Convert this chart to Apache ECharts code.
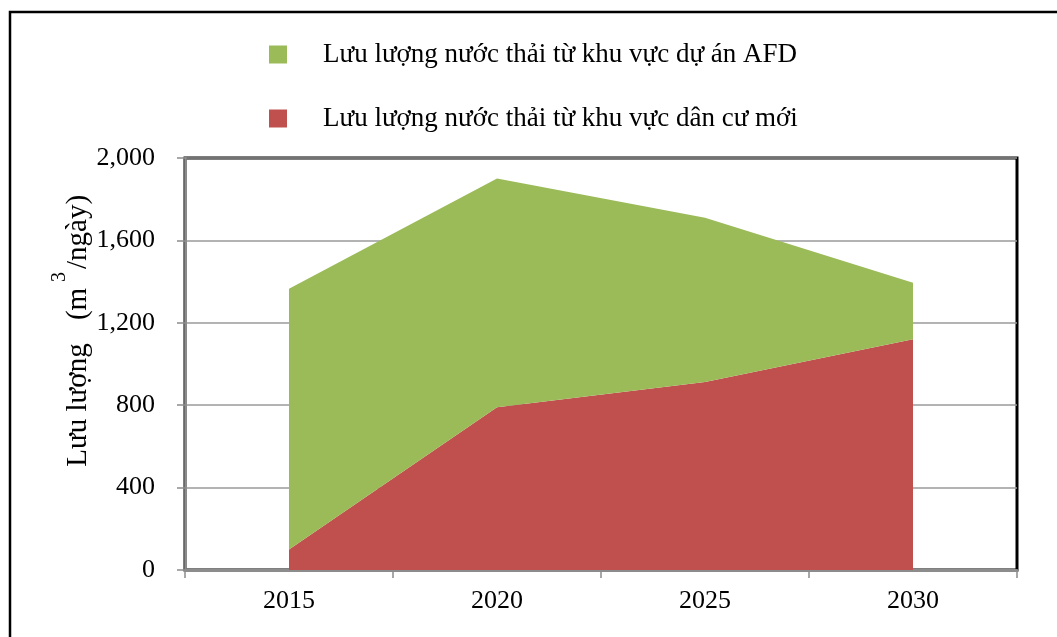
<!DOCTYPE html>
<html>
<head>
<meta charset="utf-8">
<script src="https://cdn.jsdelivr.net/npm/echarts@6/dist/echarts.min.js"></script>
<style>
html,body{margin:0;padding:0;background:#fff;}
#chart{width:1057px;height:637px;}
</style>
</head>
<body>
<div id="chart"></div>
<script>
const categories = ['2015', '2020', '2025', '2030'];
const residentialFlow = [100, 790, 913, 1120];
const afdFlow = [1265, 1110, 797, 275];
const seriesNames = ['Lưu lượng nước thải từ khu vực dân cư mới', 'Lưu lượng nước thải từ khu vực dự án AFD'];
const yTicks = [0, 400, 800, 1200, 1600, 2000];
const yTitleParts = ['Lưu lượng', '(m', '3', '/ngày)'];

const FONT = '"Liberation Serif", "Times New Roman", serif';
const chart = echarts.init(document.getElementById('chart'), null, {renderer: 'canvas'});
chart.setOption({
  animation: false,
  backgroundColor: '#fff',
  textStyle: {fontFamily: FONT},
  legend: {
    orient: 'vertical',
    left: 264,
    top: 36,
    itemWidth: 18,
    itemHeight: 18,
    itemGap: 37,
    icon: 'rect',
    data: [seriesNames[1], seriesNames[0]],
    textStyle: {fontFamily: FONT, fontSize: 27, color: '#000', padding: [0, 0, 0, 31]}
  },
  grid: {
    left: 185, right: 40, top: 158, bottom: 67,
    show: true, borderColor: '#000', borderWidth: 3, backgroundColor: 'transparent'
  },
  xAxis: {
    type: 'category',
    data: categories,
    boundaryGap: true,
    axisLine: {lineStyle: {color: '#8c8c8c', width: 3}},
    axisTick: {show: true, length: 8, lineStyle: {color: '#8c8c8c', width: 1.5}},
    axisLabel: {fontFamily: FONT, fontSize: 26, color: '#000', margin: 18}
  },
  yAxis: {
    type: 'value',
    min: yTicks[0], max: yTicks[yTicks.length - 1], interval: 400,
    axisLine: {show: true, lineStyle: {color: '#8c8c8c', width: 2.5}},
    axisTick: {show: true, length: 8, lineStyle: {color: '#8c8c8c', width: 1.5}},
    splitLine: {show: true, lineStyle: {color: '#9a9a9a', width: 1.5}},
    axisLabel: {
      fontFamily: FONT, fontSize: 26, color: '#000', margin: 30,
      formatter: v => v.toLocaleString('en-US')
    }
  },
  graphic: [
    {type: 'rect', shape: {x: 10, y: 12, width: 1100, height: 700}, style: {fill: 'none', stroke: '#000', lineWidth: 2.5}, z: 100},
    {type: 'text', x: 78, y: 405, rotation: Math.PI / 2, style: {text: yTitleParts[0], font: '29px ' + FONT, fill: '#000', textAlign: 'center', textVerticalAlign: 'middle'}},
    {type: 'text', x: 78, y: 304, rotation: Math.PI / 2, style: {text: yTitleParts[1], font: '29px ' + FONT, fill: '#000', textAlign: 'center', textVerticalAlign: 'middle'}},
    {type: 'text', x: 60, y: 277, rotation: Math.PI / 2, style: {text: yTitleParts[2], font: '20px ' + FONT, fill: '#000', textAlign: 'center', textVerticalAlign: 'middle'}},
    {type: 'text', x: 78, y: 232, rotation: Math.PI / 2, style: {text: yTitleParts[3], font: '29px ' + FONT, fill: '#000', textAlign: 'center', textVerticalAlign: 'middle'}}
  ],
  series: [
    {
      name: seriesNames[0], type: 'line', stack: 'total', data: residentialFlow,
      symbol: 'none', lineStyle: {width: 0}, areaStyle: {color: '#C0504D', opacity: 1},
      itemStyle: {color: '#C0504D'}
    },
    {
      name: seriesNames[1], type: 'line', stack: 'total', data: afdFlow,
      symbol: 'none', lineStyle: {width: 0}, areaStyle: {color: '#9BBB59', opacity: 1},
      itemStyle: {color: '#9BBB59'}
    }
  ]
});
</script>
</body>
</html>
